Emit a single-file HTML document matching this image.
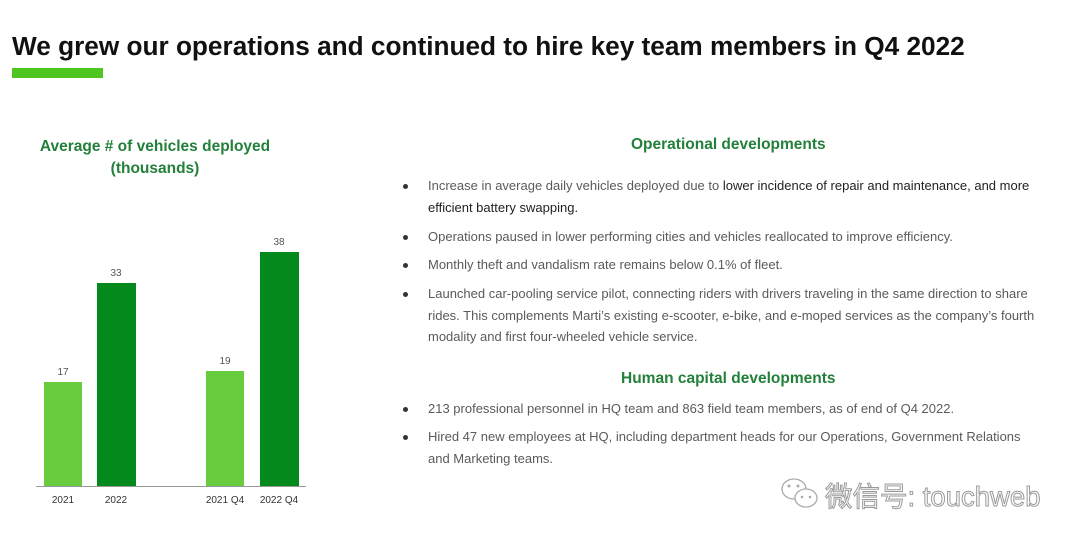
<!DOCTYPE html>
<html><head><meta charset="utf-8"><style>
body{margin:0;width:1080px;height:541px;background:#fff;position:relative;overflow:hidden;font-family:"Liberation Sans",sans-serif}
.a{position:absolute;white-space:nowrap}
.t{font-size:13px;color:#5a5a5a;line-height:16px}
.d{color:#222}
.b{position:absolute;left:403px;width:5px;height:5px;border-radius:50%;background:#333}
.h{font-weight:bold;color:#23803a;font-size:15.5px}
.bar{position:absolute}
.v{position:absolute;font-size:10px;color:#555;width:40px;text-align:center}
.x{position:absolute;font-size:10px;color:#333;width:60px;text-align:center;top:495px}
</style></head><body>
<div class="a" style="left:12px;top:31px;font-size:26.2px;font-weight:bold;color:#111">We grew our operations and continued to hire key team members in Q4 2022</div>
<div class="a" style="left:12px;top:68px;width:91px;height:10px;background:#4fc61f"></div>

<div class="a h" style="left:0;width:310px;text-align:center;top:136px;line-height:22px">Average # of vehicles deployed<br>(thousands)</div>
<div class="bar" style="left:44px;top:382px;width:38px;height:104px;background:#67cd3f"></div>
<div class="bar" style="left:97px;top:283px;width:39px;height:203px;background:#048a1c"></div>
<div class="bar" style="left:206px;top:371px;width:38px;height:115px;background:#67cd3f"></div>
<div class="bar" style="left:260px;top:252px;width:39px;height:234px;background:#048a1c"></div>
<div class="a" style="left:36px;top:486px;width:270px;height:1px;background:#999"></div>
<div class="v" style="left:43px;top:367px">17</div>
<div class="v" style="left:96px;top:268px">33</div>
<div class="v" style="left:205px;top:356px">19</div>
<div class="v" style="left:259px;top:237px">38</div>
<div class="x" style="left:33px">2021</div>
<div class="x" style="left:86px">2022</div>
<div class="x" style="left:195px">2021 Q4</div>
<div class="x" style="left:249px">2022 Q4</div>

<div class="a h" style="left:631px;top:136px">Operational developments</div>
<div class="b" style="top:184px"></div>
<div class="a t" style="left:428px;top:178px">Increase in average daily vehicles deployed due to <span class="d">lower incidence of repair and maintenance, and more</span></div>
<div class="a t d" style="left:428px;top:200px">efficient battery swapping.</div>
<div class="b" style="top:235px"></div>
<div class="a t" style="left:428px;top:229px">Operations paused in lower performing cities and vehicles reallocated to improve efficiency.</div>
<div class="b" style="top:263px"></div>
<div class="a t" style="left:428px;top:257px">Monthly theft and vandalism rate remains below 0.1% of fleet.</div>
<div class="b" style="top:292px"></div>
<div class="a t" style="left:428px;top:286px">Launched car-pooling service pilot, connecting riders with drivers traveling in the same direction to share</div>
<div class="a t" style="left:428px;top:308px">rides. This complements Marti’s existing e-scooter, e-bike, and e-moped services as the company’s fourth</div>
<div class="a t" style="left:428px;top:329px">modality and first four-wheeled vehicle service.</div>

<div class="a h" style="left:621px;top:370px">Human capital developments</div>
<div class="b" style="top:407px"></div>
<div class="a t" style="left:428px;top:401px">213 professional personnel in HQ team and 863 field team members, as of end of Q4 2022.</div>
<div class="b" style="top:435px"></div>
<div class="a t" style="left:428px;top:429px">Hired 47 new employees at HQ, including department heads for our Operations, Government Relations</div>
<div class="a t" style="left:428px;top:451px">and Marketing teams.</div>

<svg class="a" style="left:778px;top:476px" width="44" height="34"><g fill="none" stroke="#aaa" stroke-width="1.3"><ellipse cx="16" cy="13" rx="12" ry="10"/><ellipse cx="28" cy="22" rx="11" ry="9" fill="#fff"/></g><circle cx="11" cy="10" r="1.5" fill="#aaa"/><circle cx="20" cy="10" r="1.5" fill="#aaa"/><circle cx="24" cy="21" r="1.3" fill="#aaa"/><circle cx="32" cy="21" r="1.3" fill="#aaa"/></svg>
<div class="a" style="left:825px;top:474px;font-size:27.5px;color:#fff;-webkit-text-stroke:1px #9a9a9a;font-family:'Liberation Sans','Noto Sans CJK SC',sans-serif">微信号: touchweb</div>
</body></html>
